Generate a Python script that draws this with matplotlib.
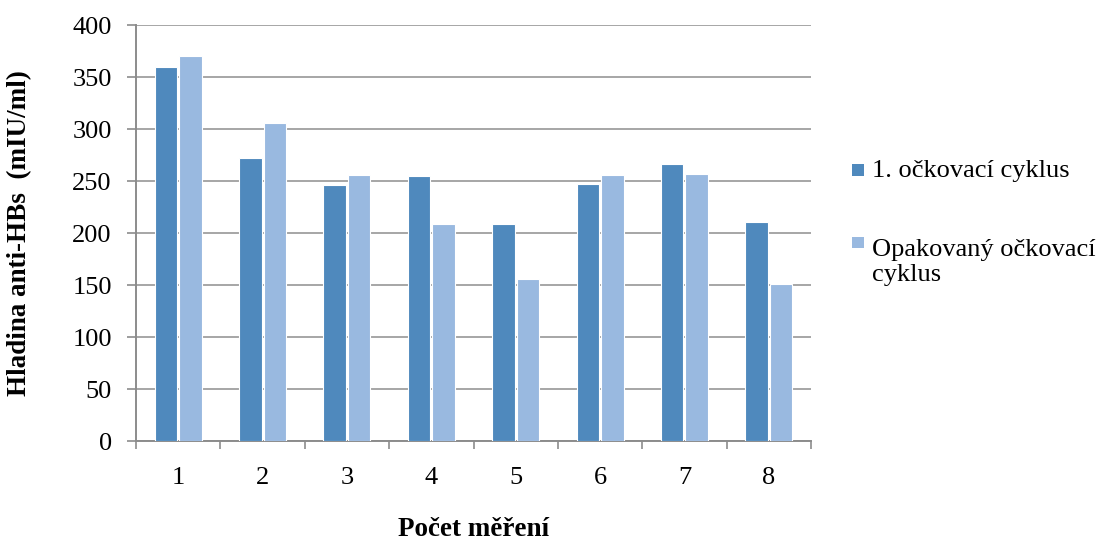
import matplotlib
matplotlib.use("Agg")
import matplotlib.pyplot as plt
from matplotlib.patches import Rectangle
import numpy as np

categories = ["1", "2", "3", "4", "5", "6", "7", "8"]
first_cycle = [360, 272, 246, 255, 209, 247, 266, 211]
repeat_cycle = [370, 306, 256, 209, 156, 256, 257, 151]
series_names = ["1. očkovací cyklus", "Opakovaný očkovací\ncyklus"]
y_ticks = [0, 50, 100, 150, 200, 250, 300, 350, 400]

plt.rcParams["font.family"] = ["Liberation Serif", "DejaVu Serif"]

W, H = 1107, 543
fig = plt.figure(figsize=(W / 100, H / 100), dpi=100)
ax = fig.add_axes([136 / W, 1 - 441 / H, 675 / W, 416 / H])

x = np.arange(len(categories))
w = 0.267
dark = "#4F89BD"
light = "#99B9E0"
b1 = ax.bar(x - w / 2 - 0.012, first_cycle, width=w, color=dark, edgecolor="white",
            linewidth=0.8, zorder=3)
b2 = ax.bar(x + w / 2 + 0.012, repeat_cycle, width=w, color=light, edgecolor="white",
            linewidth=0.8, zorder=3)

ax.set_xlim(-0.5, len(categories) - 0.5)
ax.set_ylim(0, 400)
ax.set_yticks(y_ticks)
ax.yaxis.grid(True, color="#A6A6A6", linewidth=1.4, zorder=0)
ax.set_axisbelow(True)

ax.set_xticks(x)
ax.set_xticklabels(categories)
ax.set_xticks(np.arange(-0.5, len(categories), 1.0), minor=True)
ax.tick_params(axis="x", which="major", length=0, pad=19, labelsize=19)
ax.tick_params(axis="x", which="minor", length=6, width=1.2, color="#8C8C8C")
ax.tick_params(axis="y", length=6.5, width=1.2, color="#8C8C8C", labelsize=19, pad=11)

for side in ["top", "right"]:
    ax.spines[side].set_visible(False)
for side in ["left", "bottom"]:
    ax.spines[side].set_color("#8C8C8C")
    ax.spines[side].set_linewidth(1.4)

ax.set_ylabel("Hladina anti-HBs  (mIU/ml)", fontsize=19.5, fontweight="bold", va="center")
ax.yaxis.set_label_coords((20 - 136) / 675, 0.5)
ax.set_xlabel("Počet měření", fontsize=19.5, fontweight="bold", va="center")
ax.xaxis.set_label_coords(0.5, (441 - 530) / 416)

# legend entries: colour swatch plus label (baseline of the last line is anchored)
legend_fs = 19
line_px = legend_fs * 100 / 72 * 1.2
legend_rows = [(b1, series_names[0], 170), (b2, series_names[1], 242.5)]
for bars, name, yc in legend_rows:
    sq = 11.5
    fig.patches.append(Rectangle((852 / W, 1 - (yc + sq / 2) / H), sq / W, sq / H,
                                 transform=fig.transFigure, figure=fig,
                                 facecolor=bars.patches[0].get_facecolor(),
                                 edgecolor="none"))
    baseline = yc + 7 + name.count("\n") * line_px
    fig.text(872 / W, 1 - baseline / H, name, fontsize=legend_fs, va="baseline",
             ha="left", linespacing=1.2)

fig.savefig("out.png", dpi=100)
